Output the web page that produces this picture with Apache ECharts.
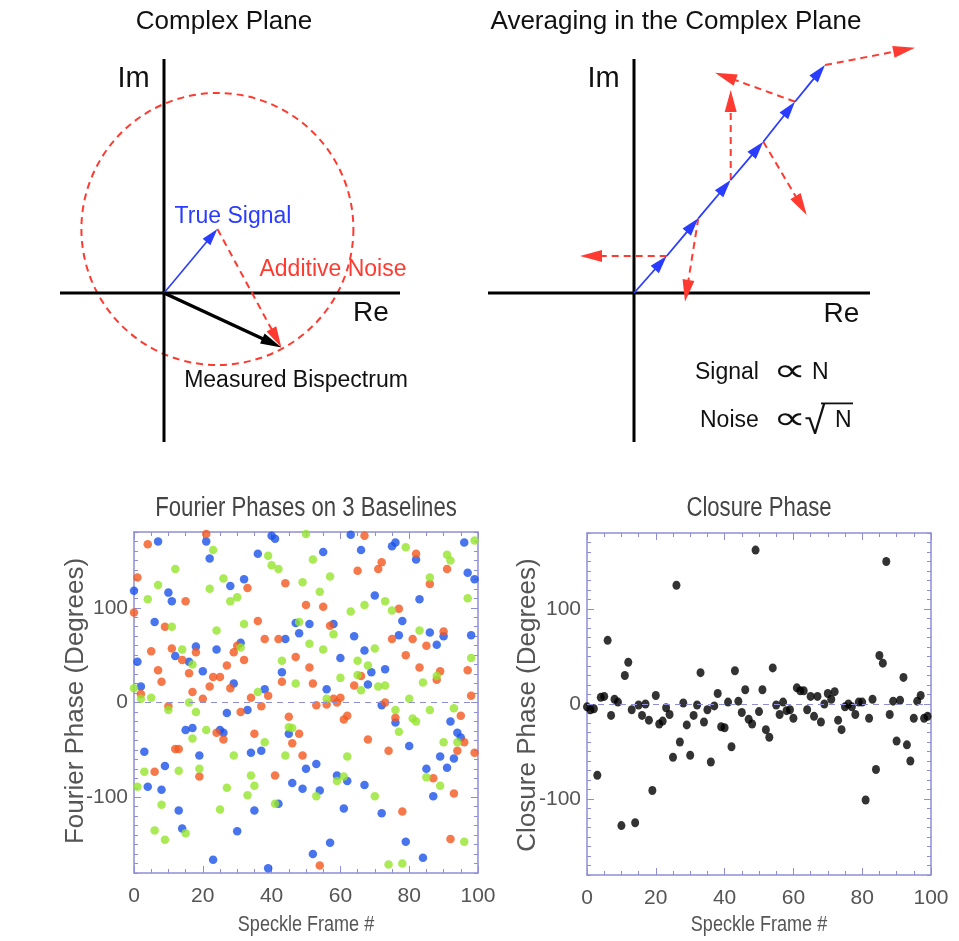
<!DOCTYPE html>
<html>
<head>
<meta charset="utf-8">
<script src="https://cdn.jsdelivr.net/npm/echarts@6/dist/echarts.min.js"></script>
<style>
  html, body { margin: 0; padding: 0; background: #fff; }
  #chart { width: 959px; height: 941px; }
</style>
</head>
<body>
<div id="chart"></div>
<script>
// ---------- Complex plane sketches (units: 1 = 10 px) ----------
const leftAxes = [[-10.4, 0, 23.6, 0], [0, 23.4, 0, -14.9]];
const trueSignal = [5.34, 6.4];
const measuredBispectrum = [11.74, -5.44];
const noiseRadius = 13.6;

const rightAxes = [[-14.6, 0, 23.6, 0], [0, 23.4, 0, -14.9]];
const signalChain = [[0, 0], [3.27, 3.7], [6.43, 7.47], [9.67, 11.3], [12.93, 15.13], [16.1, 19.13], [19.1, 22.8]];
const noiseTips = [[-5.4, 3.7], [5.1, -0.87], [9.67, 20.3], [17.27, 7.8], [8.1, 22.03], [28.1, 24.53]];

// ---------- Fourier phases on 3 baselines: [frame, degrees] ----------
const redPhase = [
  [0, 95], [1, 132], [2, 9], [4, 167], [5, 54], [6, -73], [7, 34], [8, 22], [9, 80], [10, -4],
  [11, 57], [12, -49], [13, -49], [14, 45], [15, 107], [16, 31], [17, 11], [18, 53], [19, -78], [20, 4],
  [21, 178], [22, 17], [23, 27], [24, -32], [25, 27], [26, -39], [27, 39], [28, 15], [29, 53], [30, 60],
  [31, -10], [32, 45], [33, 121], [34, 5], [35, -33], [36, 86], [37, -4], [38, 67], [39, 7], [41, -77],
  [42, 67], [43, 22], [44, 126], [45, -15], [46, -43], [47, 48], [48, -33], [49, -56], [50, 103], [51, 37],
  [52, 20], [53, -3], [54, -172], [55, 101], [56, -2], [57, 81], [58, 4], [59, 0], [60, 5], [61, -18],
  [62, -14], [64, 18], [65, 139], [66, 28], [67, 176], [68, -39], [71, 141], [72, 148], [73, 0], [74, -51],
  [75, 67], [76, -16], [77, 99], [78, -115], [79, 50], [81, 67], [82, 157], [83, 37], [85, 60], [86, 125],
  [87, -80], [88, 24], [89, 33], [90, 75], [91, 141], [92, -144], [93, -96], [94, -51], [95, -14], [96, -42],
  [97, 34], [98, 7], [99, -53]
];
const bluePhase = [
  [0, 118], [1, 43], [2, 17], [3, -52], [4, -89], [6, 85], [7, 170], [8, -92], [9, -67], [10, 116],
  [11, 107], [12, 49], [13, -114], [14, -133], [15, -29], [16, 43], [17, -27], [18, 59], [19, -56], [20, 33],
  [21, 170], [22, 152], [23, -166], [24, 56], [25, -29], [26, -32], [27, -11], [28, 123], [29, 20], [30, -136],
  [31, 63], [32, 130], [33, -8], [34, -53], [35, -114], [36, 157], [37, -51], [38, 14], [39, -175], [40, 176],
  [41, 173], [42, -107], [43, 32], [44, 67], [45, -33], [46, -85], [47, 84], [48, 73], [49, -91], [50, -70],
  [51, 83], [52, -160], [53, -65], [54, -93], [55, 159], [56, 14], [57, -148], [58, 83], [59, -77], [60, 47],
  [61, -112], [62, -83], [63, 177], [64, 70], [66, 161], [67, 55], [67, -87], [68, 19], [69, 32], [70, 113],
  [72, -117], [72, -3], [73, 35], [75, 165], [76, 169], [76, -21], [77, 71], [78, 86], [79, -147], [80, -46],
  [82, 151], [83, 109], [84, -164], [85, -70], [86, 74], [87, -99], [88, 61], [89, -57], [90, 70], [91, -69],
  [92, -20], [93, -59], [94, -32], [95, -37], [96, 169], [97, 137], [98, 71], [99, 130]
];
const greenPhase = [
  [0, 15], [1, -89], [2, 4], [3, -73], [4, 109], [5, 5], [6, -135], [7, 124], [8, -108], [9, -145],
  [10, -8], [11, 80], [12, 141], [13, -72], [14, 56], [15, -138], [16, 0], [17, 40], [17, -38], [18, -10],
  [19, -70], [21, -29], [22, 120], [23, 161], [24, 76], [25, -113], [26, 131], [27, -90], [28, 107], [29, -56],
  [30, 111], [31, 58], [32, 83], [33, -98], [34, -77], [35, -88], [36, 11], [38, -42], [39, 155], [40, 145],
  [41, -107], [42, 141], [43, 44], [44, -56], [45, -26], [46, -27], [47, 20], [48, 85], [49, 127], [50, 178],
  [51, 62], [52, 151], [53, -99], [54, 117], [55, 56], [56, 4], [57, 133], [58, 72], [59, -83], [60, 26],
  [61, -78], [62, -57], [63, 96], [65, 44], [65, 29], [66, 13], [67, 103], [68, 39], [70, -99], [70, 57],
  [71, 17], [73, 107], [73, 18], [74, -171], [75, 97], [76, -8], [77, -31], [78, -170], [79, 164], [80, 4],
  [81, -17], [82, -20], [83, 76], [84, 21], [85, -79], [86, 132], [86, -8], [88, 28], [89, -88], [90, -42],
  [91, 156], [92, 150], [93, -6], [94, -42], [96, -147], [97, 110], [98, 47], [99, 171]
];

// ---------- Closure phase per speckle frame (frames 0..99) ----------
const closurePhase = [
  -3, -6, -5, -75, 7, 8, 67, -12, 5, 2,
  -128, 30, 44, -6, -125, -1, -12, 0, -17, -91,
  9, -21, -18, -4, -11, -56, 125, -40, 1, -22,
  -54, -12, -1, 33, -19, -6, -61, -2, 11, -24,
  -25, 2, -45, 35, 3, -9, 15, -16, -21, 162,
  -8, 15, -27, -35, 38, -1, -11, 2, -7, -6,
  -15, 17, 14, 14, -6, 8, -13, 8, -19, 0,
  11, 5, 13, -17, -27, -3, 0, -3, -11, 2,
  2, -101, -15, 5, -69, 51, 43, 150, -11, 3,
  -39, 4, 28, -43, -60, -15, 3, 9, -15, -13
];

const phaseTicks = [-100, 0, 100];

// ---------- styling ----------
const SANS = "'Liberation Sans', Arial, Helvetica, sans-serif";
const SYMBOL = "'DejaVu Sans ExtraLight', 'DejaVu Sans', 'Liberation Sans', sans-serif";
const RED = '#ff3a30';
const BLUE = '#2a3cff';
const AXIS = '#8e8ed6';
const GREY = '#555555';

// Arrow (or plain segment) drawn from [x0, y0] to [x1, y1] in data units
function arrowSeries(gridIdx, segs, st) {
  return {
    type: 'custom',
    xAxisIndex: gridIdx,
    yAxisIndex: gridIdx,
    data: segs,
    encode: { x: [0, 2], y: [1, 3] },
    silent: true,
    z: st.z || 2,
    renderItem: function (params, api) {
      const a = api.coord([api.value(0), api.value(1)]);
      const b = api.coord([api.value(2), api.value(3)]);
      const dx = b[0] - a[0], dy = b[1] - a[1];
      const L = Math.hypot(dx, dy) || 1;
      const ux = dx / L, uy = dy / L;
      const hl = st.head ? st.head[0] : 0;
      const hw = st.head ? st.head[1] : 0;
      const bx = b[0] - ux * hl, by = b[1] - uy * hl;
      const children = [{
        type: 'line',
        shape: { x1: a[0], y1: a[1], x2: hl ? bx + ux : b[0], y2: hl ? by + uy : b[1] },
        style: { stroke: st.color, lineWidth: st.width, lineDash: st.dash || null, lineCap: 'butt' }
      }];
      if (hl) {
        children.push({
          type: 'polygon',
          shape: { points: [[b[0], b[1]], [bx - uy * hw / 2, by + ux * hw / 2], [bx + uy * hw / 2, by - ux * hw / 2]] },
          style: { fill: st.color }
        });
      }
      return { type: 'group', children: children };
    }
  };
}

function chainSegments(points) {
  const out = [];
  for (let i = 1; i < points.length; i++) {
    out.push([points[i - 1][0], points[i - 1][1], points[i][0], points[i][1]]);
  }
  return out;
}

function noiseSegments(points, tips) {
  return tips.map(function (t, i) { return [points[i + 1][0], points[i + 1][1], t[0], t[1]]; });
}

function frameAxis(gridIdx, pos) {
  return {
    gridIndex: gridIdx, type: 'value', min: 0, max: 100, interval: 20, position: pos,
    axisLine: { show: true, onZero: false, lineStyle: { color: AXIS, width: 1.5 } },
    axisTick: { show: true, inside: true, length: 7, lineStyle: { color: AXIS, width: 1 } },
    minorTick: { show: true, splitNumber: 4, length: 4, lineStyle: { color: AXIS, width: 1 } },
    axisLabel: { show: pos === 'bottom', color: GREY, fontSize: 21, fontFamily: SANS, margin: 13 },
    splitLine: { show: false }
  };
}

function phaseAxis(gridIdx, pos) {
  return {
    gridIndex: gridIdx, type: 'value', min: -180, max: 180, position: pos,
    axisLine: { show: true, onZero: false, lineStyle: { color: AXIS, width: 1.5 } },
    axisTick: { show: true, inside: true, length: 7, customValues: phaseTicks, lineStyle: { color: AXIS, width: 1 } },
    axisLabel: { show: pos === 'left', customValues: phaseTicks, color: GREY, fontSize: 21, fontFamily: SANS, margin: 6 },
    splitLine: { show: false }
  };
}

function phaseMinorAxis(gridIdx, pos) {
  return {
    gridIndex: gridIdx, type: 'value', min: -180, max: 180, interval: 10, position: pos,
    axisLine: { show: false, onZero: false },
    axisTick: { show: true, inside: true, length: 4, lineStyle: { color: AXIS, width: 1 } },
    axisLabel: { show: false },
    splitLine: { show: false }
  };
}

function sketchAxis(gridIdx, min, max) {
  return { gridIndex: gridIdx, type: 'value', min: min, max: max, show: false, splitLine: { show: false } };
}

const zeroLine = {
  silent: true, symbol: 'none', label: { show: false },
  lineStyle: { color: AXIS, type: [6, 5], width: 1.2 },
  data: [{ yAxis: 0 }]
};

function text(str, x, y, size, opts) {
  opts = opts || {};
  return {
    type: 'text', x: x, y: y, rotation: opts.rotation || 0,
    scaleX: opts.scaleX || 1, silent: true, z: 10,
    style: {
      text: str, fill: opts.color || '#111', align: opts.align || 'center', verticalAlign: 'middle',
      font: size + 'px ' + (opts.family || SANS)
    }
  };
}

const chart = echarts.init(document.getElementById('chart'), null, { renderer: 'canvas' });

const option = {
  backgroundColor: '#ffffff',
  animation: false,
  grid: [
    { left: 50, top: 40, width: 370, height: 410 },
    { left: 470, top: 40, width: 460, height: 410 },
    { left: 134, top: 532, width: 344, height: 341 },
    { left: 587, top: 533, width: 344, height: 342 }
  ],
  xAxis: [
    sketchAxis(0, -11.4, 25.6),
    sketchAxis(1, -16.4, 29.6),
    frameAxis(2, 'bottom'),
    frameAxis(2, 'top'),
    frameAxis(3, 'bottom'),
    frameAxis(3, 'top')
  ],
  yAxis: [
    sketchAxis(0, -15.7, 25.3),
    sketchAxis(1, -15.7, 25.3),
    phaseAxis(2, 'left'),
    phaseMinorAxis(2, 'left'),
    phaseAxis(2, 'right'),
    phaseMinorAxis(2, 'right'),
    phaseAxis(3, 'left'),
    phaseMinorAxis(3, 'left'),
    phaseAxis(3, 'right'),
    phaseMinorAxis(3, 'right')
  ],
  series: [
    // left sketch: axes, noise circle, vectors
    arrowSeries(0, leftAxes, { color: '#000', width: 3 }),
    {
      type: 'custom', xAxisIndex: 0, yAxisIndex: 0, silent: true, z: 1,
      data: [[trueSignal[0], trueSignal[1], noiseRadius]],
      encode: { x: 0, y: 1 },
      renderItem: function (params, api) {
        const c = api.coord([api.value(0), api.value(1)]);
        const r = api.size([api.value(2), 0])[0];
        return {
          type: 'circle', shape: { cx: c[0], cy: c[1], r: r },
          style: { fill: 'none', stroke: RED, lineWidth: 2, lineDash: [7, 5] }
        };
      }
    },
    arrowSeries(0, [[0, 0, trueSignal[0], trueSignal[1]]], { color: BLUE, width: 1.6, head: [17, 10], z: 3 }),
    arrowSeries(0, [[trueSignal[0], trueSignal[1], measuredBispectrum[0], measuredBispectrum[1]]],
      { color: RED, width: 2, dash: [7, 5], head: [21, 11], z: 3 }),
    arrowSeries(0, [[0, 0, measuredBispectrum[0], measuredBispectrum[1]]], { color: '#000', width: 3.5, head: [21, 11], z: 4 }),

    // right sketch: axes, accumulated signal, per-frame noise
    arrowSeries(1, rightAxes, { color: '#000', width: 3 }),
    arrowSeries(1, noiseSegments(signalChain, noiseTips), { color: RED, width: 2, dash: [7, 5], head: [22, 12], z: 3 }),
    arrowSeries(1, chainSegments(signalChain), { color: BLUE, width: 1.8, head: [18, 11], z: 4 }),

    // Fourier phases
    {
      type: 'scatter', name: 'baseline 1', xAxisIndex: 2, yAxisIndex: 2, data: bluePhase,
      symbolSize: 8.5, itemStyle: { color: '#1a52ea' }, silent: true, markLine: zeroLine
    },
    {
      type: 'scatter', name: 'baseline 2', xAxisIndex: 2, yAxisIndex: 2, data: redPhase,
      symbolSize: 8.5, itemStyle: { color: '#f4571f' }, silent: true
    },
    {
      type: 'scatter', name: 'baseline 3', xAxisIndex: 2, yAxisIndex: 2, data: greenPhase,
      symbolSize: 8.5, itemStyle: { color: '#95e52c' }, silent: true
    },

    // Closure phase
    {
      type: 'scatter', name: 'closure', xAxisIndex: 4, yAxisIndex: 6,
      data: closurePhase.map(function (v, i) { return [i, v]; }),
      symbolSize: [8, 9], itemStyle: { color: '#000' }, silent: true, markLine: zeroLine
    }
  ],
  graphic: [
    text('Complex Plane', 224, 22, 26),
    text('Averaging in the Complex Plane', 676, 22, 26),
    text('Im', 133.5, 79, 29),
    text('Re', 371, 313, 28),
    text('Im', 603.5, 79, 29),
    text('Re', 841.5, 314, 28),
    text('True Signal', 233, 217, 23, { color: BLUE }),
    text('Additive Noise', 333, 270, 23, { color: RED }),
    text('Measured Bispectrum', 296, 381, 23),

    text('Signal', 695, 373, 23, { align: 'left' }),
    text('\u221D', 789.5, 373, 32, { family: SYMBOL, scaleX: 1.45 }),
    text('N', 812, 373, 23, { align: 'left' }),
    text('Noise', 700, 421, 23, { align: 'left' }),
    text('\u221D', 789.5, 421, 32, { family: SYMBOL, scaleX: 1.45 }),
    text('\u221A', 815, 424, 38),
    text('N', 835, 421, 23, { align: 'left' }),
    { type: 'rect', silent: true, z: 10, shape: { x: 821, y: 402.5, width: 32, height: 1.8 }, style: { fill: '#111' } },

    text('Fourier Phases on 3 Baselines', 306, 509, 27, { color: '#444', scaleX: 0.82 }),
    text('Closure Phase', 759, 509, 27, { color: '#444', scaleX: 0.82 }),
    text('Speckle Frame #', 306, 925, 22, { color: GREY, scaleX: 0.82 }),
    text('Speckle Frame #', 759, 925, 22, { color: GREY, scaleX: 0.82 }),
    text('Fourier Phase (Degrees)', 76, 701, 26, { color: GREY, rotation: Math.PI / 2 }),
    text('Closure Phase (Degrees)', 527.5, 705, 26, { color: GREY, rotation: Math.PI / 2 })
  ]
};

chart.setOption(option);
</script>
</body>
</html>
